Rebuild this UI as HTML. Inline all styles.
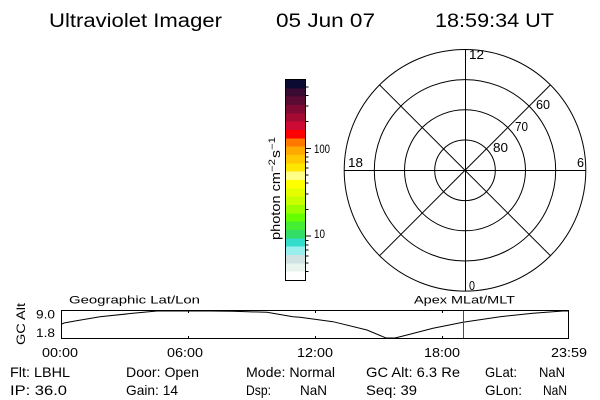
<!DOCTYPE html>
<html>
<head>
<meta charset="utf-8">
<style>
html,body{margin:0;padding:0;background:#fff;}
svg{display:block;}
text{font-family:"Liberation Sans",sans-serif;fill:#000;}
</style>
</head>
<body>
<svg width="600" height="400" viewBox="0 0 600 400" xmlns="http://www.w3.org/2000/svg">
<rect x="0" y="0" width="600" height="400" fill="#fff"/>

<!-- Title -->
<text x="49" y="27" font-size="19" textLength="173" lengthAdjust="spacingAndGlyphs">Ultraviolet Imager</text>
<text x="276" y="27" font-size="19" textLength="99" lengthAdjust="spacingAndGlyphs">05 Jun 07</text>
<text x="435" y="27" font-size="19" textLength="119" lengthAdjust="spacingAndGlyphs">18:59:34 UT</text>

<!-- Colorbar -->
<g shape-rendering="crispEdges">
<rect x="286" y="80" width="20" height="8.34" fill="#0a0a33"/>
<rect x="286" y="88.33" width="20" height="8.34" fill="#3a0a33"/>
<rect x="286" y="96.67" width="20" height="8.34" fill="#5a0a33"/>
<rect x="286" y="105" width="20" height="8.34" fill="#800a33"/>
<rect x="286" y="113.33" width="20" height="8.34" fill="#a50a33"/>
<rect x="286" y="121.67" width="20" height="8.34" fill="#cc0a33"/>
<rect x="286" y="130" width="20" height="8.34" fill="#ff0000"/>
<rect x="286" y="138.33" width="20" height="8.34" fill="#ff7800"/>
<rect x="286" y="146.67" width="20" height="8.34" fill="#ffaa00"/>
<rect x="286" y="155" width="20" height="8.34" fill="#ffc800"/>
<rect x="286" y="163.33" width="20" height="8.34" fill="#ffe600"/>
<rect x="286" y="171.67" width="20" height="8.34" fill="#ffff88"/>
<rect x="286" y="180" width="20" height="8.34" fill="#ffff00"/>
<rect x="286" y="188.33" width="20" height="8.34" fill="#e6ff00"/>
<rect x="286" y="196.67" width="20" height="8.34" fill="#c8ff00"/>
<rect x="286" y="205" width="20" height="8.34" fill="#9bff00"/>
<rect x="286" y="213.33" width="20" height="8.34" fill="#66ff00"/>
<rect x="286" y="221.67" width="20" height="8.34" fill="#44ee33"/>
<rect x="286" y="230" width="20" height="8.34" fill="#33dd66"/>
<rect x="286" y="238.33" width="20" height="8.34" fill="#33ddcc"/>
<rect x="286" y="246.67" width="20" height="8.34" fill="#99eeee"/>
<rect x="286" y="255" width="20" height="8.34" fill="#d0e2e2"/>
<rect x="286" y="263.33" width="20" height="8.34" fill="#e8f4ee"/>
<rect x="286" y="271.67" width="20" height="8.33" fill="#ffffff"/>
<rect x="285.5" y="79.5" width="20" height="201" fill="none" stroke="#000" stroke-width="1"/>
<g stroke="#000" stroke-width="1">
<line x1="305.5" y1="87" x2="308.5" y2="87"/>
<line x1="305.5" y1="95.5" x2="308.5" y2="95.5"/>
<line x1="305.5" y1="106" x2="308.5" y2="106"/>
<line x1="305.5" y1="121.5" x2="308.5" y2="121.5"/>
<line x1="305.5" y1="148.5" x2="311" y2="148.5"/>
<line x1="305.5" y1="152.5" x2="308.5" y2="152.5"/>
<line x1="305.5" y1="157" x2="308.5" y2="157"/>
<line x1="305.5" y1="162" x2="308.5" y2="162"/>
<line x1="305.5" y1="168" x2="308.5" y2="168"/>
<line x1="305.5" y1="175" x2="308.5" y2="175"/>
<line x1="305.5" y1="183" x2="308.5" y2="183"/>
<line x1="305.5" y1="194" x2="308.5" y2="194"/>
<line x1="305.5" y1="209.5" x2="308.5" y2="209.5"/>
<line x1="305.5" y1="236" x2="311" y2="236"/>
<line x1="305.5" y1="240.5" x2="308.5" y2="240.5"/>
<line x1="305.5" y1="245" x2="308.5" y2="245"/>
<line x1="305.5" y1="250" x2="308.5" y2="250"/>
<line x1="305.5" y1="256" x2="308.5" y2="256"/>
<line x1="305.5" y1="263" x2="308.5" y2="263"/>
<line x1="305.5" y1="271.5" x2="308.5" y2="271.5"/>
</g>
</g>
<text x="314" y="153" font-size="11.5" textLength="16" lengthAdjust="spacingAndGlyphs">100</text>
<text x="314" y="238" font-size="11.5" textLength="11" lengthAdjust="spacingAndGlyphs">10</text>
<g transform="translate(280,240) rotate(-90)">
<text x="0" y="0" font-size="13" textLength="68" lengthAdjust="spacingAndGlyphs">photon cm</text>
<text x="68" y="-5" font-size="9" textLength="13" lengthAdjust="spacingAndGlyphs">−2</text>
<text x="82" y="0" font-size="13" textLength="8" lengthAdjust="spacingAndGlyphs">s</text>
<text x="90" y="-5" font-size="9" textLength="13" lengthAdjust="spacingAndGlyphs">−1</text>
</g>

<!-- Polar plot -->
<g fill="none" stroke="#000" stroke-width="1">
<circle cx="465" cy="170.3" r="30.3"/>
<circle cx="465" cy="170.3" r="60.5"/>
<circle cx="465" cy="170.3" r="90.7"/>
<circle cx="465" cy="170.3" r="120.8"/>
<line x1="344" y1="170.5" x2="586" y2="170.5" shape-rendering="crispEdges"/>
<line x1="465.5" y1="49.5" x2="465.5" y2="291" shape-rendering="crispEdges"/>
<line x1="379.6" y1="84.9" x2="550.4" y2="255.7"/>
<line x1="550.4" y1="84.9" x2="379.6" y2="255.7"/>
</g>
<text x="469" y="59" font-size="12.5" textLength="15" lengthAdjust="spacingAndGlyphs">12</text>
<text x="536" y="109" font-size="12.5" textLength="14" lengthAdjust="spacingAndGlyphs">60</text>
<text x="515" y="131" font-size="12.5" textLength="13" lengthAdjust="spacingAndGlyphs">70</text>
<text x="493" y="152" font-size="12.5" textLength="15" lengthAdjust="spacingAndGlyphs">80</text>
<text x="348" y="167" font-size="12.5" textLength="15" lengthAdjust="spacingAndGlyphs">18</text>
<text x="577" y="167" font-size="12.5" textLength="7" lengthAdjust="spacingAndGlyphs">6</text>
<text x="469" y="290" font-size="12.5" textLength="6" lengthAdjust="spacingAndGlyphs">0</text>

<!-- Bottom panel -->
<text x="69" y="303.5" font-size="11" textLength="131" lengthAdjust="spacingAndGlyphs">Geographic Lat/Lon</text>
<text x="414" y="303.5" font-size="11" textLength="101" lengthAdjust="spacingAndGlyphs">Apex MLat/MLT</text>
<rect x="61.5" y="310.5" width="507" height="28" fill="none" stroke="#000" stroke-width="1" shape-rendering="crispEdges"/>
<g stroke="#000" stroke-width="1" shape-rendering="crispEdges">
<line x1="188.5" y1="311" x2="188.5" y2="313"/>
<line x1="315.5" y1="311" x2="315.5" y2="313"/>
<line x1="442.5" y1="311" x2="442.5" y2="313"/>
<line x1="188.5" y1="336" x2="188.5" y2="338"/>
<line x1="315.5" y1="336" x2="315.5" y2="338"/>
<line x1="442.5" y1="336" x2="442.5" y2="338"/>
</g>
<polyline fill="none" stroke="#000" stroke-width="1" points="62,324 64,323 75,321 100,316.7 133,313.3 157,311 187,311 210,311 233,311.3 267,312.3 293,316.7 300,317.3 333,321.7 367,330 386,338 395,338 407,335 433,328.3 463,322.3 500,316.7 533,313.3 563,311 568,311"/>
<line x1="463.5" y1="311" x2="463.5" y2="338" stroke="#ff0000" stroke-width="1" shape-rendering="crispEdges"/>
<text x="36" y="318.5" font-size="11.5" textLength="19" lengthAdjust="spacingAndGlyphs">9.0</text>
<text x="36" y="337" font-size="11.5" textLength="19" lengthAdjust="spacingAndGlyphs">1.8</text>
<text transform="translate(25,345) rotate(-90)" font-size="12" textLength="42" lengthAdjust="spacingAndGlyphs">GC Alt</text>

<text x="42" y="357" font-size="13" textLength="36" lengthAdjust="spacingAndGlyphs">00:00</text>
<text x="167" y="357" font-size="13" textLength="36" lengthAdjust="spacingAndGlyphs">06:00</text>
<text x="297" y="357" font-size="13" textLength="36" lengthAdjust="spacingAndGlyphs">12:00</text>
<text x="424" y="357" font-size="13" textLength="36" lengthAdjust="spacingAndGlyphs">18:00</text>
<text x="551" y="357" font-size="13" textLength="36" lengthAdjust="spacingAndGlyphs">23:59</text>

<!-- Info rows -->
<text x="10" y="377" font-size="14" textLength="60" lengthAdjust="spacingAndGlyphs">Flt: LBHL</text>
<text x="126" y="377" font-size="14" textLength="73" lengthAdjust="spacingAndGlyphs">Door: Open</text>
<text x="246" y="377" font-size="14" textLength="89" lengthAdjust="spacingAndGlyphs">Mode: Normal</text>
<text x="366" y="377" font-size="14" textLength="94" lengthAdjust="spacingAndGlyphs">GC Alt: 6.3 Re</text>
<text x="485" y="377" font-size="14" textLength="32" lengthAdjust="spacingAndGlyphs">GLat:</text>
<text x="539" y="377" font-size="14" textLength="26" lengthAdjust="spacingAndGlyphs">NaN</text>

<text x="10" y="395" font-size="14" textLength="57" lengthAdjust="spacingAndGlyphs">IP: 36.0</text>
<text x="126" y="395" font-size="14" textLength="52" lengthAdjust="spacingAndGlyphs">Gain: 14</text>
<text x="246" y="395" font-size="14" textLength="25" lengthAdjust="spacingAndGlyphs">Dsp:</text>
<text x="300" y="395" font-size="14" textLength="27" lengthAdjust="spacingAndGlyphs">NaN</text>
<text x="366" y="395" font-size="14" textLength="51" lengthAdjust="spacingAndGlyphs">Seq: 39</text>
<text x="485" y="395" font-size="14" textLength="37" lengthAdjust="spacingAndGlyphs">GLon:</text>
<text x="543" y="395" font-size="14" textLength="24" lengthAdjust="spacingAndGlyphs">NaN</text>
</svg>
</body>
</html>
